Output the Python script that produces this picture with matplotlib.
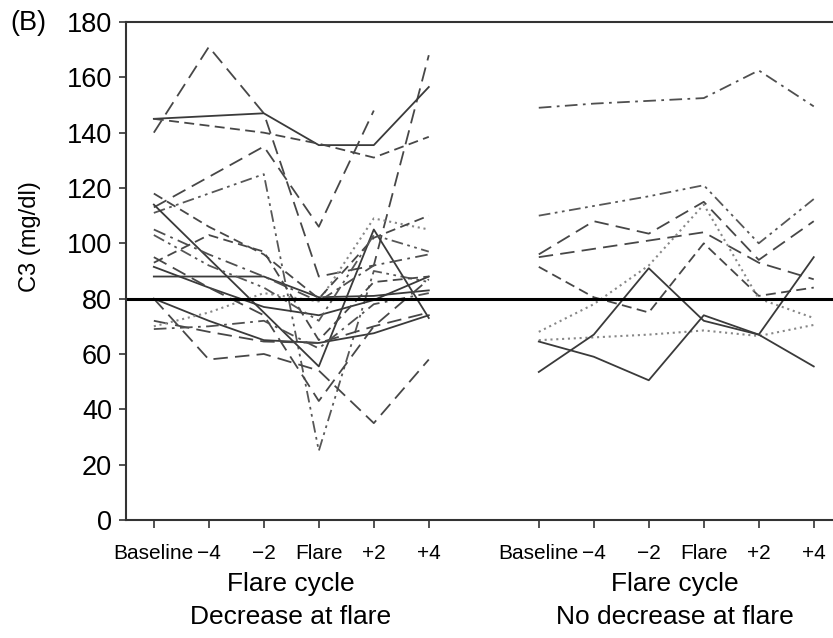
import numpy as np
import matplotlib
matplotlib.use('Agg')
from matplotlib import pyplot as plt

plt.rcParams['font.family'] = ['Liberation Sans', 'DejaVu Sans']

# time points of the flare cycle (same for both panels)
timepoints = ['Baseline', '\u22124', '\u22122', 'Flare', '+2', '+4']
nan = np.nan

# C3 (mg/dl) per patient, group with a decrease at flare
decrease_c3 = [
    [140, 171, 147, 88, 92, 168],
    [145, 146, 147, 135.5, 135.5, 156.5],
    [145, 142.5, 140, 136, 131, 138.5],
    [113, 124, 135, 106, 148, nan],
    [111, 118, 125, 25, 90, 86],
    [114, 94.5, 75, 55.5, 105, 73],
    [88, 88, 88, 80.5, 81, 83],
    [91.5, 84, 77, 74, 79.5, 88],
    [80, 72, 65, 64, 67.5, 74],
    [80, 58, 60, 54, 35, 58],
    [72, 68, 64.5, 64, 70, 75],
    [70, 75, 82, 79, 109, 105],
    [105, 96, 88, 79, 92, 96],
    [118, 106, 96, 80, 102, 110],
    [95, 84, 74, 43, 70, 87],
    [93, 103, 97, 65, 86, 88],
    [103, 92, 84, 72, 103, 97],
    [69, 70, 72, 62, 78, 82],
]
decrease_styles = ['longdash', 'solid', 'dash', 'longdash', 'dashdotdot', 'solid',
                   'solid', 'solid', 'solid', 'longdash', 'longdash', 'dot',
                   'dashdot', 'dash', 'longdash', 'dash', 'dashdotdot', 'dashdot']

# C3 (mg/dl) per patient, group with no decrease at flare
nodecrease_c3 = [
    [149, 150.5, 151.5, 152.5, 162.5, 149.5],
    [110, 113.5, 117, 121, 100, 116],
    [96, 108, 103.5, 115, 94, 108],
    [95, 98, 101, 104, 93, 87],
    [91.5, 80.5, 75, 100, 81, 84],
    [68, 78, 92, 114, 80, 73],
    [65, 66, 67, 68.5, 66.5, 70.5],
    [64.5, 59, 50.5, 74, 67, 55.5],
    [53.5, 67, 91, 72, 67, 95],
]
nodecrease_styles = ['dashdot', 'dashdotdot', 'longdash', 'longdash', 'dash',
                     'dot', 'dot', 'solid', 'solid']

normal_c3 = 80

dashes = {
    'solid': '-',
    'dash': (0, (5.5, 3)),
    'longdash': (0, (8, 4)),
    'dashdot': (0, (7, 3, 1.5, 3)),
    'dashdotdot': (0, (6.5, 2.5, 1.5, 2.5, 1.5, 2.5)),
    'dot': (0, (1, 1.8)),
}
colours = {'solid': '#3a3a3a', 'dash': '#474747', 'longdash': '#474747',
           'dashdot': '#4f4f4f', 'dashdotdot': '#575757', 'dot': '#888888'}

x_left = np.arange(6)
x_right = np.arange(6) + 7

fig = plt.figure(figsize=(8.33, 6.38), dpi=100)
ax = fig.add_axes([0.151, 0.185, 0.849, 0.7805])

for vals, st in zip(decrease_c3, decrease_styles):
    ax.plot(x_left, vals, linestyle=dashes[st], color=colours[st],
            lw=1.5 if st == 'dot' else 1.3)
for vals, st in zip(nodecrease_c3, nodecrease_styles):
    ax.plot(x_right, vals, linestyle=dashes[st], color=colours[st],
            lw=1.5 if st == 'dot' else 1.3)

# lower limit of normal
ax.axhline(normal_c3, color='black', lw=2.2)

ax.set_xlim(-0.51, 12.35)
ax.set_ylim(0, 180)
ax.set_yticks(np.arange(0, 181, 20))
ax.set_xticks(np.concatenate([x_left, x_right]))
ax.set_xticklabels(timepoints + timepoints)
ax.tick_params(axis='y', labelsize=19.5, length=5, width=1.2, color='#333333', pad=5)
ax.tick_params(axis='x', labelsize=15, length=6, width=1.2, color='#333333', pad=11)

ax.spines['right'].set_visible(False)
for side in ['left', 'bottom', 'top']:
    ax.spines[side].set_linewidth(1.5)
    ax.spines[side].set_color('#333333')

fig.text(30 / 833, 1 - 237 / 638, 'C3 (mg/dl)', fontsize=17, rotation=90,
         ha='center', va='center')

# group captions under each half
fig.text(291 / 833, 1 - 584 / 638, 'Flare cycle', fontsize=19, ha='center', va='center')
fig.text(291 / 833, 1 - 617 / 638, 'Decrease at flare', fontsize=19, ha='center', va='center')
fig.text(675 / 833, 1 - 584 / 638, 'Flare cycle', fontsize=19, ha='center', va='center')
fig.text(675 / 833, 1 - 617 / 638, 'No decrease at flare', fontsize=19, ha='center', va='center')

fig.text(10 / 833, 1 - 23 / 638, '(B)', fontsize=19.5, ha='left', va='center')

fig.savefig('out.png', dpi=100)
